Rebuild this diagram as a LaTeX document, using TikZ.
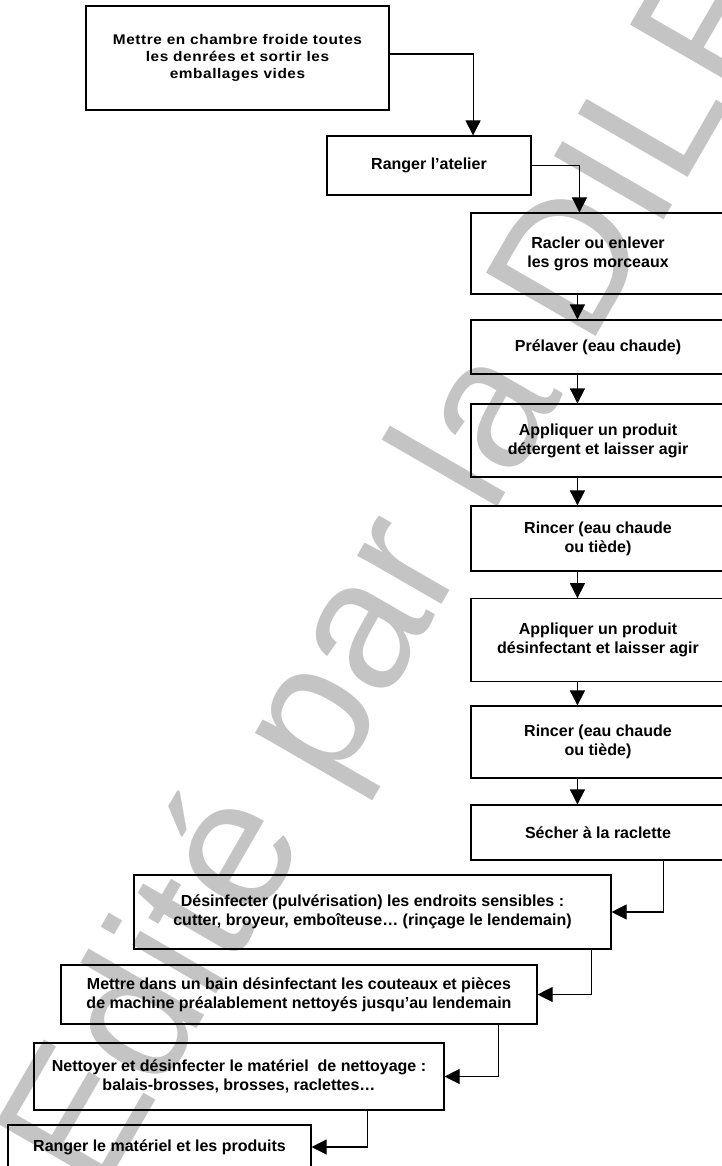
\documentclass[tikz,border=0pt]{standalone}
\usepackage{fontspec}
\setmainfont{Liberation Sans}
\newfontfamily\widebold{Liberation Sans}[FakeStretch=1.1,LetterSpace=4]
\usetikzlibrary{arrows.meta}
\definecolor{wmgray}{RGB}{196,196,196}

\begin{document}
\begin{tikzpicture}[x=1pt,y=-1pt,
  stepbox/.style={draw, line width=1.1pt, inner sep=0pt, align=center,
    font=\bfseries\fontsize{16}{19}\selectfont},
  rightbox/.style={stepbox, minimum width=254pt},
  flow/.style={line width=1.1pt, -{Triangle[length=15pt,width=15pt]}},
  watermark/.style={text=wmgray, inner sep=0pt, anchor=base west,
    font=\fontsize{184}{200}\selectfont},
]
\useasboundingbox (0,0) rectangle (721,1166);

% diagonal watermark behind the chart
\node[watermark, rotate=60] (wm) at (98,1200) {Edité par la DILF};

% first two steps
\node[stepbox, minimum width=303pt, minimum height=104pt,
  font=\widebold\bfseries\fontsize{14}{16.9}\selectfont] (b1) at (237.5,58)
  {Mettre en chambre froide toutes\\les denrées et sortir les\\emballages vides};
\node[stepbox, minimum width=204pt, minimum height=59pt] (b2) at (429,165.5)
  {Ranger l’atelier};

% right column of cleaning steps
\node[rightbox, minimum height=81pt] (r3) at (598,253.5)
  {Racler ou enlever\\les gros morceaux};
\node[rightbox, minimum height=54pt] (r4) at (598,347)
  {Prélaver (eau chaude)};
\node[rightbox, minimum height=73pt] (r5) at (598,440.5)
  {Appliquer un produit\\détergent et laisser agir};
\node[rightbox, minimum height=65pt] (r6) at (598,538.5)
  {Rincer (eau chaude\\ou tiède)};
\node[rightbox, minimum height=82.5pt] (r7) at (598,640)
  {Appliquer un produit\\désinfectant et laisser agir};
\node[rightbox, minimum height=72pt] (r8) at (598,742)
  {Rincer (eau chaude\\ou tiède)};
\node[rightbox, minimum height=55pt] (r9) at (598,832.5)
  {Sécher à la raclette};

% final steps, stepping down to the left
\node[stepbox, minimum width=477pt, minimum height=74pt] (b10) at (372.5,912)
  {Désinfecter (pulvérisation) les endroits sensibles :\\cutter, broyeur, emboîteuse… (rinçage le lendemain)};
\node[stepbox, minimum width=476pt, minimum height=59pt] (b11) at (299,994.5)
  {Mettre dans un bain désinfectant les couteaux et pièces\\de machine préalablement nettoyés jusqu’au lendemain};
\node[stepbox, minimum width=410pt, minimum height=67pt] (b12) at (239,1076.5)
  {Nettoyer et désinfecter le matériel\ \ de nettoyage :\\balais-brosses, brosses, raclettes…};
\node[stepbox, minimum width=303pt, minimum height=44pt] (b13) at (159.5,1147)
  {Ranger le matériel et les produits};

% connectors
\draw[flow] ([yshift=4pt]b1.east) -| ([xshift=146.6pt]b2.north west);
\draw[flow] (b2.east) -| ([xshift=109pt]r3.north west);
\foreach \a/\b in {r3/r4, r4/r5, r5/r6, r6/r7, r7/r8, r8/r9}
  \draw[flow] ([xshift=107pt]\a.south west) -- ([xshift=107pt]\b.north west);
\draw[flow] ([xshift=193pt]r9.south west) |- (b10.east);
\draw[flow] ([xshift=458pt]b10.south west) |- (b11.east);
\draw[flow] ([xshift=438pt]b11.south west) |- (b12.east);
\draw[flow] ([xshift=334pt]b12.south west) |- (b13.east);
\end{tikzpicture}
\end{document}
